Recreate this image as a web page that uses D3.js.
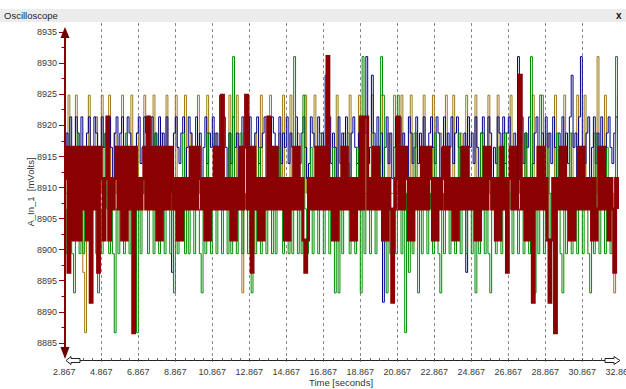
<!DOCTYPE html>
<html>
<head>
<meta charset="utf-8">
<script src="https://cdn.jsdelivr.net/npm/d3@7"></script>
<style>
  body { margin: 0; background: #fff; }
  svg { display: block; font-family: "Liberation Sans", Arial, sans-serif; }
</style>
</head>
<body>
<svg id="chart" width="626" height="389"></svg>
<script>
// Quantized ADC levels seen on the trace (mVolts)
const levelMv = [8886.6, 8891.5, 8893.0, 8896.3, 8899.3, 8901.5, 8904.0, 8906.5, 8909.0,
  8911.4, 8913.8, 8916.4, 8918.7, 8921.3, 8924.8, 8928.0, 8931.0];

const startTime = 2.867;
const sampleStep = 0.1; // seconds between samples

const yTicks = [8885, 8890, 8895, 8900, 8905, 8910, 8915, 8920, 8925, 8930, 8935];
const xTicks = [2.867, 4.867, 6.867, 8.867, 10.867, 12.867, 14.867, 16.867, 18.867,
  20.867, 22.867, 24.867, 26.867, 28.867, 30.867, 32.867];

// level index per sample (one row = 3 s)
const oliveCodes = [
  8,8,14,8,8,8,14,8,8,8, 3,0,8,14,8,8,8,13,8,8, 14,8,8,8,14,8,8,12,8,8,
  8,14,8,8,8,8,14,8,8,12, 8,8,8,14,8,8,8,8,14,8, 8,8,12,8,8,14,8,8,8,8,
  14,8,8,8,8,14,8,8,12,8, 8,8,14,8,8,8,8,14,8,8, 8,12,8,8,8,14,8,8,8,14,
  8,8,8,14,8,8,2,8,8,14, 8,8,8,12,8,8,14,8,8,8, 8,14,8,8,8,8,12,8,14,8,
  8,8,14,8,8,8,12,8,8,8, 14,8,8,8,8,14,8,8,8,12, 8,8,14,8,8,8,8,14,8,8,
  8,12,8,8,14,8,8,8,8,14, 8,8,8,12,8,8,14,8,8,8, 8,14,8,8,8,12,8,8,14,8,
  8,8,14,8,8,8,8,14,8,8, 12,8,8,8,14,8,8,8,8,14, 8,8,8,12,8,8,14,8,8,8,
  14,8,8,8,12,8,8,14,8,8, 8,8,14,8,8,8,12,8,8,14, 8,8,8,8,14,8,8,12,8,8,
  8,14,8,8,8,8,14,8,8,12, 8,8,8,14,8,8,8,8,14,8, 8,12,8,8,8,14,8,8,8,8,
  14,8,8,8,12,8,8,14,8,8, 8,14,8,8,8,8,12,8,16,8, 8,8,14,8,8,8,8,2,8,14];

const blueCodes = [
  11,12,3,13,10,11,13,12,10,13, 11,9,12,13,10,11,13,12,9,10, 13,11,12,10,13,11,9,12,13,10,
  12,13,11,10,13,12,11,9,3,12, 13,10,11,13,12,9,10,13,11,12, 10,13,11,12,9,13,10,11,3,12,
  13,11,10,12,13,9,11,13,12,10, 11,13,10,12,9,11,13,10,12,11, 13,10,12,11,14,10,13,11,9,12,
  10,13,11,12,9,10,13,11,12,10, 13,11,9,12,13,10,11,12,13,9, 11,10,13,12,11,9,13,10,12,11,
  13,10,12,11,9,13,11,10,12,13, 11,9,10,13,12,11,10,13,11,12, 9,15,11,13,10,12,11,9,13,10,
  12,11,13,10,9,12,13,11,10,12, 11,13,12,16,10,11,15,12,11,13, 10,12,1,11,13,10,12,9,11,13,
  11,13,10,12,11,9,13,12,10,11, 13,10,12,11,13,9,10,12,13,11, 10,13,12,9,11,13,10,12,11,13,
  10,12,13,11,9,10,12,3,13,11, 12,10,13,11,9,12,13,10,11,13, 12,9,11,10,13,12,11,13,10,12,
  13,11,10,12,9,16,11,13,10,12, 11,13,9,10,12,13,11,10,12,9, 13,11,12,10,13,11,9,12,10,13,
  11,12,10,13,15,11,12,9,13,16, 11,10,12,13,9,11,13,10,12,11, 13,9,10,12,13,11,10,12,13,11];

const greenCodes = [
  7,4,8,7,4,2,8,12,4,7, 4,8,7,11,4,7,8,4,2,7, 4,8,12,7,4,8,4,0,7,4,
  8,7,4,12,8,4,7,4,8,0, 7,4,8,11,7,4,8,7,4,12, 8,4,7,8,4,7,11,4,8,2,
  7,4,8,7,12,4,8,4,7,11, 4,8,7,4,2,8,4,12,7,4, 8,7,4,11,8,4,7,8,4,12,
  4,16,7,4,8,12,4,7,8,4, 7,2,8,4,7,11,4,8,7,4, 12,8,4,7,4,8,11,7,4,8,
  7,4,8,4,16,7,4,8,4,14, 7,4,8,11,4,7,8,4,12,7, 4,8,7,4,8,11,2,7,2,8,
  4,7,8,12,4,8,7,4,11,7, 2,16,4,8,7,4,12,8,4,7, 8,16,14,7,2,8,4,7,11,4,
  14,8,4,7,0,8,3,7,4,12, 8,2,7,4,8,11,4,7,8,4, 12,7,4,2,8,4,7,11,4,8,
  7,4,8,12,4,7,8,4,11,7, 4,8,2,7,4,12,8,4,7,4, 2,8,7,4,11,8,4,7,12,4,
  8,7,4,11,8,4,7,8,4,12, 7,4,16,8,2,7,4,14,8,4, 7,11,4,8,7,4,12,8,4,2,
  7,4,8,12,4,7,8,4,11,7, 4,8,7,4,2,8,4,12,7,4, 8,7,4,11,8,4,7,4,16,8];

const redCodes = [
  9,11,3,11,5,11,5,11,5,11, 7,11,5,11,1,11,7,11,3,11, 9,5,9,13,5,9,7,9,11,7,
  11,5,11,5,11,7,11,0,11,7, 9,7,9,11,7,13,7,11,7,11, 5,11,5,11,7,11,7,11,9,7,
  9,5,9,5,9,7,9,7,11,7, 11,7,11,9,7,9,5,9,5,9, 7,11,7,11,7,14,7,9,7,9,
  5,9,5,9,7,11,7,11,14,7, 11,3,11,7,9,5,9,5,9,7, 13,7,11,7,11,7,9,7,9,5,
  9,5,9,7,11,7,11,7,9,5, 3,5,9,7,9,7,11,7,11,7, 11,7,16,7,9,5,9,5,9,7,
  11,7,11,7,9,5,9,5,9,7, 13,7,13,13,7,9,7,11,7,11, 7,9,5,9,5,9,7,1,7,9,
  13,7,11,7,11,9,5,9,5,9, 7,9,7,11,7,11,7,11,9,5, 9,5,9,7,9,11,7,11,7,9,
  5,9,5,9,7,11,7,11,7,9, 7,9,5,9,5,9,7,11,7,11, 9,7,9,5,9,5,11,7,9,3,
  9,11,7,11,7,9,15,7,9,5, 9,5,9,1,9,7,11,7,11,7, 9,5,1,5,9,0,9,7,11,7,
  11,7,9,5,9,5,9,7,11,7, 11,7,9,7,9,5,9,5,7,11, 7,11,7,9,5,9,7,3,9,7];

const series = [
  { name: "olive", codes: oliveCodes, color: "#9c7812", width: 1 },
  { name: "blue", codes: blueCodes, color: "#00008b", width: 1 },
  { name: "green", codes: greenCodes, color: "#008a00", width: 1 },
  { name: "red", codes: redCodes, color: "#8b0000", width: 3 },
];

const svg = d3.select("#chart");

const x = d3.scaleLinear().domain([2.867, 32.867]).range([64.3, 619.3]);
const y = d3.scaleLinear().domain([8882.2, 8935.6]).range([360, 28]);

// Title bar
svg.append("rect").attr("x", 0).attr("y", 9).attr("width", 626).attr("height", 13).attr("fill", "#ececec");
svg.append("text").attr("x", 4).attr("y", 19).attr("font-size", 9.5).attr("fill", "#222").text("Oscilloscope");
svg.append("text").attr("x", 616).attr("y", 19).attr("font-size", 10).attr("font-weight", "bold")
  .attr("fill", "#111").text("x");

// Grid
svg.append("g")
  .selectAll("line")
  .data(xTicks.slice(1, -1))
  .enter()
  .append("line")
  .attr("x1", d => Math.round(x(d)) + 0.5)
  .attr("x2", d => Math.round(x(d)) + 0.5)
  .attr("y1", 23)
  .attr("y2", 364)
  .attr("stroke", "#8a8a8a")
  .attr("stroke-dasharray", "3,3");

// Traces
const line = d3
  .line()
  .x(d => x(d.t))
  .y(d => y(d.v))
  .curve(d3.curveStepAfter);

const plot = svg.append("g").attr("id", "traces");
series.forEach(s => {
  const pts = s.codes.map((c, i) => ({ t: startTime + i * sampleStep, v: levelMv[c] }));
  plot
    .append("path")
    .datum(pts)
    .attr("d", line)
    .attr("fill", "none")
    .attr("stroke", s.color)
    .attr("stroke-width", s.width);
});

// Y axis (dark red, arrows at both ends)
const yAxisX = 65;
const yMinor = d3.range(8885, 8935.1, 2.5);
svg.append("g")
  .selectAll("line")
  .data(yMinor)
  .enter()
  .append("line")
  .attr("x1", d => (d % 5 === 0 ? 59 : 61.5))
  .attr("x2", yAxisX)
  .attr("y1", d => Math.round(y(d)) + 0.5)
  .attr("y2", d => Math.round(y(d)) + 0.5)
  .attr("stroke", "#8b0000");

svg.append("g")
  .selectAll("text")
  .data(yTicks)
  .enter()
  .append("text")
  .attr("x", 57)
  .attr("y", d => y(d) + 3.5)
  .attr("text-anchor", "end")
  .attr("font-size", 9)
  .attr("fill", "#3a3a3a")
  .text(d => d);

svg.append("line").attr("x1", yAxisX).attr("x2", yAxisX).attr("y1", 34).attr("y2", 352)
  .attr("stroke", "#8b0000").attr("stroke-width", 2);
svg.append("path").attr("d", `M${yAxisX},27 L${yAxisX - 4.5},38 L${yAxisX + 4.5},38 Z`).attr("fill", "#6a0000");
svg.append("path").attr("d", `M${yAxisX},359 L${yAxisX - 4.5},347 L${yAxisX + 4.5},347 Z`).attr("fill", "#6a0000");

// X axis (black, hollow arrows)
const axisY = 360.5;
svg.append("line").attr("x1", 80).attr("x2", 606).attr("y1", axisY).attr("y2", axisY).attr("stroke", "#222");

const xMinor = d3.range(3.367, 32.4, 0.5);
svg.append("g")
  .selectAll("line")
  .data(xMinor)
  .enter()
  .append("line")
  .attr("x1", d => Math.round(x(d)) + 0.5)
  .attr("x2", d => Math.round(x(d)) + 0.5)
  .attr("y1", axisY - 2.5)
  .attr("y2", axisY)
  .attr("stroke", "#666");

svg.append("path")
  .attr("d", "M66,360.5 L71,356.5 L71,358.5 L80,358.5 L80,362.5 L71,362.5 L71,364.5 Z")
  .attr("fill", "#fff").attr("stroke", "#222");
svg.append("path")
  .attr("d", "M620,360.5 L614,356.5 L614,358.5 L605,358.5 L605,362.5 L614,362.5 L614,364.5 Z")
  .attr("fill", "#fff").attr("stroke", "#222");

svg.append("g")
  .selectAll("text")
  .data(xTicks)
  .enter()
  .append("text")
  .attr("x", d => x(d))
  .attr("y", 375)
  .attr("text-anchor", "middle")
  .attr("font-size", 9)
  .attr("fill", "#3a3a3a")
  .text(d => d3.format(".3f")(d));

// Axis titles
svg.append("text")
  .attr("transform", "translate(33.5,192) rotate(-90)")
  .attr("text-anchor", "middle")
  .attr("font-size", 9.5)
  .attr("fill", "#333")
  .attr("xml:space", "preserve")
  .text("A_In_1  [mVolts]");

svg.append("text")
  .attr("x", 341)
  .attr("y", 386)
  .attr("text-anchor", "middle")
  .attr("font-size", 9.5)
  .attr("fill", "#333")
  .text("Time [seconds]");
</script>
</body>
</html>
